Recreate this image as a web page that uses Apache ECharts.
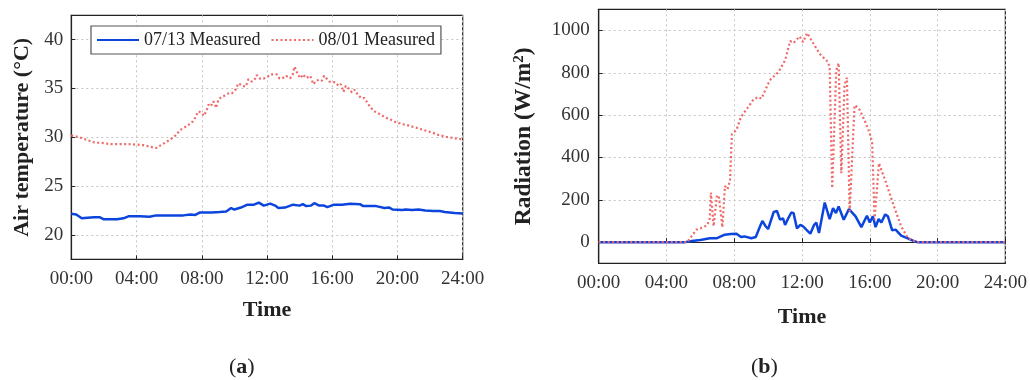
<!DOCTYPE html>
<html>
<head>
<meta charset="utf-8">
<script src="https://cdn.jsdelivr.net/npm/echarts@6/dist/echarts.min.js"></script>
<style>
html,body{margin:0;padding:0;background:#fff;}
#chart{width:1030px;height:380px;}
</style>
</head>
<body>
<div id="chart"></div>
<script>
// ---- tick labels ----
const timeLabels = ['00:00','04:00','08:00','12:00','16:00','20:00','24:00'];
const tempTicks = [20, 25, 30, 35, 40];
const radTicks = [0, 200, 400, 600, 800, 1000];
const seriesNames = ['07/13 Measured', '08/01 Measured'];

// ---- (a) air temperature, 07/13 ----
const tJulHours = [0,0.3,0.64,1.0,1.4,1.76,2.0,2.8,3.2,3.5,4.2,4.8,5.2,6.0,6.87,7.3,7.6,7.9,8.6,9.1,9.5,9.8,10.0,10.4,10.8,11.2,11.5,11.8,12.2,12.5,12.7,13.1,13.6,14.0,14.2,14.4,14.7,14.9,15.2,15.5,15.7,16.1,16.6,17.1,17.7,17.9,18.7,19.2,19.5,19.7,20.3,20.5,20.9,21.3,21.7,22.2,22.6,22.9,23.2,23.5,24];
const tJulValues = [22.16,22.1,21.7,21.75,21.8,21.8,21.6,21.6,21.7,21.9,21.9,21.85,22.0,22.0,22.0,22.1,22.05,22.3,22.3,22.35,22.4,22.75,22.6,22.8,23.1,23.1,23.3,23.0,23.2,23.0,22.75,22.8,23.1,23.0,23.15,22.95,23.0,23.25,23.0,23.0,22.85,23.1,23.1,23.2,23.15,22.95,22.95,22.75,22.8,22.6,22.55,22.6,22.55,22.6,22.5,22.45,22.45,22.35,22.3,22.25,22.2];

// ---- (a) air temperature, 08/01 ----
const tAugHours = [0,0.5,1.0,1.35,2.0,2.4,3.0,3.5,4.0,4.4,4.8,5.2,5.5,5.8,6.1,6.4,6.67,7.08,7.39,7.59,7.79,8.0,8.14,8.31,8.41,8.55,8.71,8.82,8.88,9.02,9.23,9.43,9.64,9.84,10.04,10.25,10.35,10.5,10.7,10.86,11.07,11.27,11.37,11.58,11.78,12.03,12.23,12.6,12.76,12.9,13.17,13.42,13.58,13.68,13.79,13.87,14.07,14.2,14.4,14.65,14.77,14.85,15.01,15.22,15.36,15.5,15.67,15.83,16.04,16.24,16.38,16.53,16.69,16.83,17.06,17.2,17.37,17.57,17.78,17.98,18.18,18.39,18.57,18.78,19.3,19.6,19.9,20.3,20.7,21.2,21.7,22.1,22.5,23.0,23.5,24];
const tAugValues = [30.2,30.0,29.7,29.5,29.4,29.3,29.3,29.3,29.25,29.2,29.05,28.9,29.2,29.5,29.8,30.2,30.74,31.15,31.49,32.0,32.66,32.5,32.2,32.84,33.34,33.17,33.68,33.34,33.0,33.85,34.18,34.28,34.5,34.5,34.8,35.54,35.64,35.27,35.2,35.95,35.7,36.0,36.38,36.0,36.0,36.2,36.45,36.45,36.04,36.0,36.3,36.04,36.45,37.23,36.9,36.45,36.07,36.45,36.07,36.3,35.77,35.44,35.8,35.9,35.8,36.3,36.0,35.7,35.67,35.6,35.27,35.44,34.66,35.27,34.93,34.6,34.87,34.36,34.02,34.02,33.45,33.0,32.67,32.5,32.0,31.8,31.55,31.35,31.2,30.95,30.7,30.5,30.25,30.05,29.9,29.8];

// ---- (b) radiation, 07/13 ----
const rJulHours = [0,5.09,5.5,6.0,6.56,6.95,7.05,7.44,7.8,8.13,8.4,8.6,9.0,9.27,9.5,9.66,9.85,10.0,10.33,10.52,10.7,10.88,11.0,11.2,11.37,11.5,11.7,11.9,12.06,12.25,12.35,12.49,12.7,12.84,13.0,13.34,13.63,13.83,14.0,14.16,14.46,14.77,15.16,15.5,15.83,16.0,16.18,16.34,16.52,16.68,16.91,17.07,17.32,17.52,17.85,18.24,18.64,18.8,24];
const rJulValues = [0,0,5,10,18,18,27,35,38,40,24,27,18,24,70,100,75,62,143,147,106,112,81,115,140,137,65,81,75,59,68,40,80,93,43,187,109,161,137,168,106,156,122,71,125,93,122,71,109,93,131,122,56,59,31,18,4,0,0];

// ---- (b) radiation, 08/01 ----
const rAugHours = [0,5.23,5.5,5.77,6.1,6.4,6.55,6.62,6.78,6.98,7.1,7.3,7.45,7.6,7.75,7.86,8.13,8.4,8.75,9.1,9.4,9.6,10.1,10.6,11.0,11.3,11.5,11.86,12.06,12.3,12.65,13.04,13.53,13.63,13.78,14.02,14.16,14.32,14.51,14.65,14.81,15.1,15.36,15.69,16.0,16.14,16.28,16.54,16.97,17.36,17.85,18.24,18.74,24];
const rAugValues = [0,0,30,59,68,80,110,234,75,222,210,70,265,250,290,510,530,592,630,670,686,678,765,803,859,950,941,972,945,988,941,890,851,827,255,812,846,326,741,777,145,647,631,576,514,467,106,373,278,184,75,20,0,0];

const zip = (xs, ys) => xs.map((x, i) => [x, ys[i]]);

const FONT = 'Liberation Serif';
const BLUE = '#0b45dd';
const RED = '#f06868';
const gridLine = {show: true, lineStyle: {color: '#c4c4c4', type: [2, 3], width: 1}};
const axisLine = {show: true, lineStyle: {color: '#222', width: 1.2}};

function xAxis(gridIndex, nameGap) {
  return {
    type: 'value', gridIndex, min: 0, max: 24, interval: 4,
    name: 'Time', nameLocation: 'middle', nameGap,
    nameTextStyle: {fontFamily: FONT, fontWeight: 'bold', fontSize: 22, color: '#222'},
    axisLine, axisTick: {show: true, inside: true, length: 4, lineStyle: {color: '#222'}},
    axisLabel: {fontFamily: FONT, fontSize: 19, color: '#333', margin: 10,
      formatter: v => timeLabels[Math.round(v / 4)]},
    splitLine: gridLine
  };
}

const chart = echarts.init(document.getElementById('chart'), null, {renderer: 'canvas'});
chart.setOption({
  animation: false,
  backgroundColor: '#fff',
  grid: [
    {left: 71.3, top: 15.3, width: 391.4, height: 244, show: true, borderColor: '#222', borderWidth: 1.2, containLabel: false},
    {left: 598.7, top: 9.3, width: 407.3, height: 254, show: true, borderColor: '#222', borderWidth: 1.2, containLabel: false}
  ],
  legend: {
    data: seriesNames,
    left: 91, top: 26,
    padding: [5, 6, 5, 5],
    itemGap: 10, itemWidth: 42, itemHeight: 16,
    itemStyle: {opacity: 0},
    backgroundColor: '#fff', borderColor: '#555', borderWidth: 1.2,
    textStyle: {fontFamily: FONT, fontSize: 18, color: '#222'}
  },
  xAxis: [xAxis(0, 40), xAxis(1, 43)],
  yAxis: [
    {
      type: 'value', gridIndex: 0, min: 17.5, max: 42.5,
      name: 'Air temperature (°C)', nameLocation: 'middle', nameGap: 38,
      nameTextStyle: {fontFamily: FONT, fontWeight: 'bold', fontSize: 22, color: '#222'},
      axisLine,
      axisTick: {show: true, inside: true, length: 4, customValues: tempTicks, lineStyle: {color: '#222'}},
      axisLabel: {fontFamily: FONT, fontSize: 19, color: '#333', margin: 8, customValues: tempTicks,
        formatter: v => String(v)},
      splitLine: gridLine
    },
    {
      type: 'value', gridIndex: 1, min: -100, max: 1100,
      name: '{t|Radiation (W/m}{s|2}{t|)}', nameLocation: 'middle', nameGap: 62,
      nameTextStyle: {fontFamily: FONT, fontWeight: 'bold', fontSize: 23.5, color: '#222',
        rich: {
          t: {fontFamily: FONT, fontWeight: 'bold', fontSize: 23.5, color: '#222'},
          s: {fontFamily: FONT, fontWeight: 'bold', fontSize: 15, color: '#222', verticalAlign: 'top', padding: [0, 0, 10, 0]}
        }},
      axisLine,
      axisTick: {show: true, inside: true, length: 4, customValues: radTicks, lineStyle: {color: '#222'}},
      axisLabel: {fontFamily: FONT, fontSize: 19, color: '#333', margin: 9, customValues: radTicks,
        formatter: v => String(v)},
      splitLine: gridLine
    }
  ],
  series: [
    {name: seriesNames[0], type: 'line', xAxisIndex: 0, yAxisIndex: 0, data: zip(tJulHours, tJulValues),
      showSymbol: false, symbol: 'none', lineStyle: {color: BLUE, width: 2.5}, itemStyle: {color: BLUE}, z: 3},
    {name: seriesNames[1], type: 'line', xAxisIndex: 0, yAxisIndex: 0, data: zip(tAugHours, tAugValues),
      showSymbol: false, symbol: 'none', lineStyle: {color: RED, width: 2.2, type: [2, 2.5]}, itemStyle: {color: RED}, z: 4},
    {name: seriesNames[0], type: 'line', xAxisIndex: 1, yAxisIndex: 1, data: zip(rJulHours, rJulValues),
      showSymbol: false, symbol: 'none', lineStyle: {color: BLUE, width: 2.5}, itemStyle: {color: BLUE}, z: 3},
    {name: seriesNames[1], type: 'line', xAxisIndex: 1, yAxisIndex: 1, data: zip(rAugHours, rAugValues),
      showSymbol: false, symbol: 'none', lineStyle: {color: RED, width: 2.2, type: [2, 2.5]}, itemStyle: {color: RED}, z: 4}
  ],
  graphic: [
    {type: 'text', left: 229, top: 356, style: {text: '({b|a})', fontFamily: FONT, fontSize: 22, fill: '#222',
      rich: {b: {fontFamily: FONT, fontWeight: 'bold', fontSize: 22, fill: '#222', color: '#222'}}}},
    {type: 'text', left: 751, top: 356, style: {text: '({b|b})', fontFamily: FONT, fontSize: 22, fill: '#222',
      rich: {b: {fontFamily: FONT, fontWeight: 'bold', fontSize: 22, fill: '#222', color: '#222'}}}}
  ]
});
</script>
</body>
</html>
